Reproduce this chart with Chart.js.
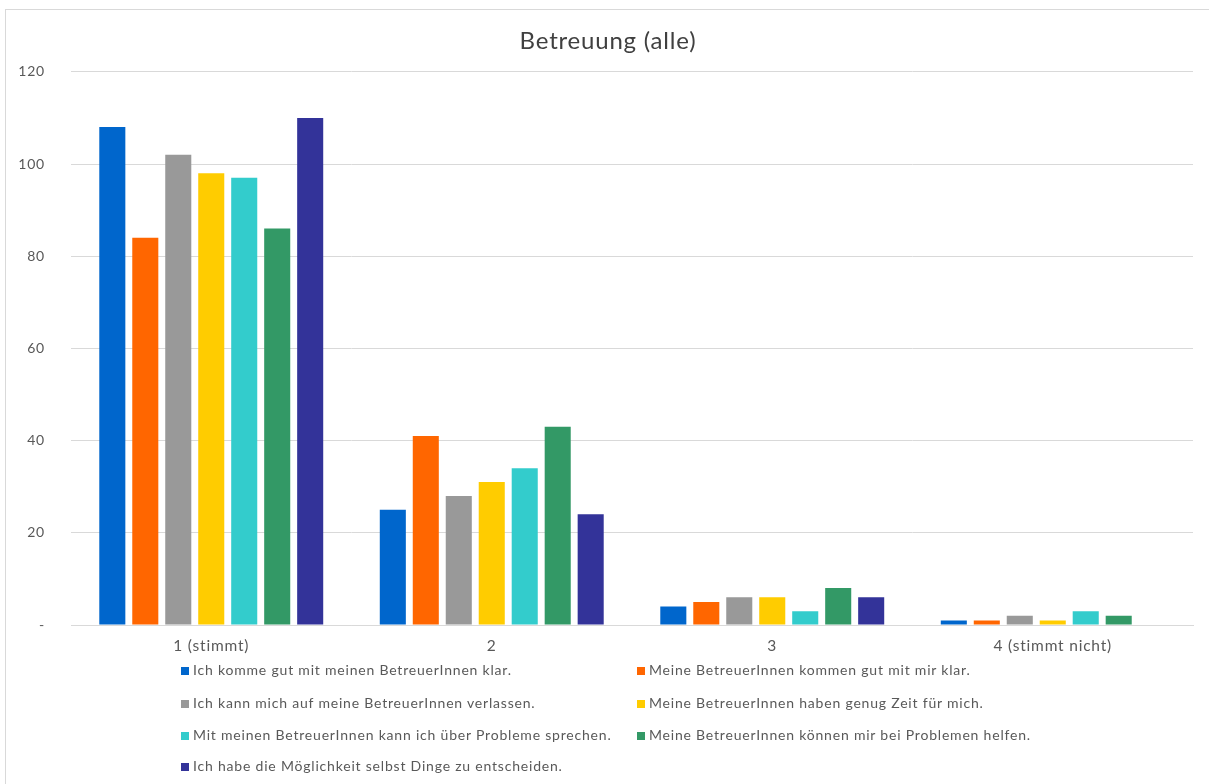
<!DOCTYPE html>
<html>
<head>
<meta charset="utf-8">
<script src="https://cdn.jsdelivr.net/npm/chart.js@4"></script>
<style>
    body { margin: 0; background: #fff; font-family: Lato, sans-serif; }
    #wrap { position: relative; width: 1209px; height: 784px; overflow: hidden; }
    #frame { position: absolute; left: 5px; top: 9px; width: 1220px; height: 800px; border: 1px solid #d9d9d9; }
    #chart-canvas { position: absolute; left: 0; top: 0; }
    .leg-item { position: absolute; font-size: 14px; color: #595959; white-space: nowrap; line-height: 16px; letter-spacing: 0.8px; }
    .leg-box { display: inline-block; width: 8px; height: 8px; margin-right: 4px; vertical-align: 0px; }
</style>
</head>
<body>
<div id="wrap">
    <div id="frame"></div>
    <canvas id="chart-canvas" width="1209" height="784"></canvas>
    <div id="legend"></div>
</div>
<script>
const categories = ['1 (stimmt)', '2', '3', '4 (stimmt nicht)'];
const yTicks = [0, 20, 40, 60, 80, 100, 120];

const seriesNames = [
    'Ich komme gut mit meinen BetreuerInnen klar.',
    'Meine BetreuerInnen kommen gut mit mir klar.',
    'Ich kann mich auf meine BetreuerInnen verlassen.',
    'Meine BetreuerInnen haben genug Zeit für mich.',
    'Mit meinen BetreuerInnen kann ich über Probleme sprechen.',
    'Meine BetreuerInnen können mir bei Problemen helfen.',
    'Ich habe die Möglichkeit selbst Dinge zu entscheiden.'
];
const seriesColors = ['#0066cc', '#ff6600', '#999999', '#ffcc00', '#33cccc', '#339966', '#333399'];

const kommeKlar      = [108, 25, 4, 1];
const kommenKlar     = [84, 41, 5, 1];
const verlassen      = [102, 28, 6, 2];
const genugZeit      = [98, 31, 6, 1];
const sprechen       = [97, 34, 3, 3];
const helfen         = [86, 43, 8, 2];
const entscheiden    = [110, 24, 6, 0];

const seriesValues = [kommeKlar, kommenKlar, verlassen, genugZeit, sprechen, helfen, entscheiden];

const datasets = seriesNames.map(function(name, i){
    return {
        label: name,
        data: seriesValues[i],
        backgroundColor: seriesColors[i],
        borderWidth: 0,
        categoryPercentage: 0.823,
        barPercentage: 0.79
    };
});

// slightly wider text spacing on the canvas labels
const spacingPlugin = {
    id: 'spacing',
    beforeDraw: function(chart){ chart.ctx.letterSpacing = '0.8px'; }
};

const ctx = document.getElementById('chart-canvas');
const chart = new Chart(ctx, {
    type: 'bar',
    data: { labels: categories, datasets: datasets },
    plugins: [spacingPlugin],
    options: {
        responsive: false,
        animation: false,
        layout: { padding: { left: 7, right: 0, top: 0, bottom: 0 } },
        plugins: {
            legend: { display: false },
            tooltip: { enabled: false },
            title: {
                display: true,
                text: 'Betreuung (alle)',
                color: '#404040',
                font: { family: 'Lato', size: 24, weight: 'normal', lineHeight: 1.2 },
                padding: { top: 27, bottom: 16 }
            }
        },
        scales: {
            x: {
                grid: { display: false, drawTicks: false },
                border: { color: '#d9d9d9', width: 1 },
                ticks: { color: '#595959', font: { family: 'Lato', size: 15.5 }, padding: 12 },
                afterFit: function(scale){ scale.height = 159; }
            },
            y: {
                min: 0,
                max: 120,
                afterBuildTicks: function(scale){
                    scale.ticks = yTicks.map(function(v){ return { value: v }; });
                },
                grid: { color: '#d9d9d9', drawTicks: false },
                border: { display: false },
                ticks: {
                    color: '#595959',
                    font: { family: 'Lato', size: 14 },
                    padding: 26,
                    callback: function(v){ return v === 0 ? '-' : v; }
                },
                afterFit: function(scale){ scale.width = 64; }
            },
            // empty right margin so the title sits centred on the full width
            yRight: {
                position: 'right',
                min: 0,
                max: 120,
                grid: { display: false, drawTicks: false },
                border: { display: false },
                ticks: { display: false },
                afterFit: function(scale){ scale.width = 16; }
            }
        }
    }
});

// two-column legend under the axis
const legendPos = [
    [181, 662], [637, 662],
    [181, 695], [637, 695],
    [181, 727], [637, 727],
    [181, 758]
];
const legendEl = document.getElementById('legend');
chart.data.datasets.forEach(function(ds, i){
    const item = document.createElement('div');
    item.className = 'leg-item';
    item.style.left = legendPos[i][0] + 'px';
    item.style.top = legendPos[i][1] + 'px';
    item.innerHTML = '<span class="leg-box" style="background:' + ds.backgroundColor + '"></span>' + ds.label;
    legendEl.appendChild(item);
});
</script>
</body>
</html>
